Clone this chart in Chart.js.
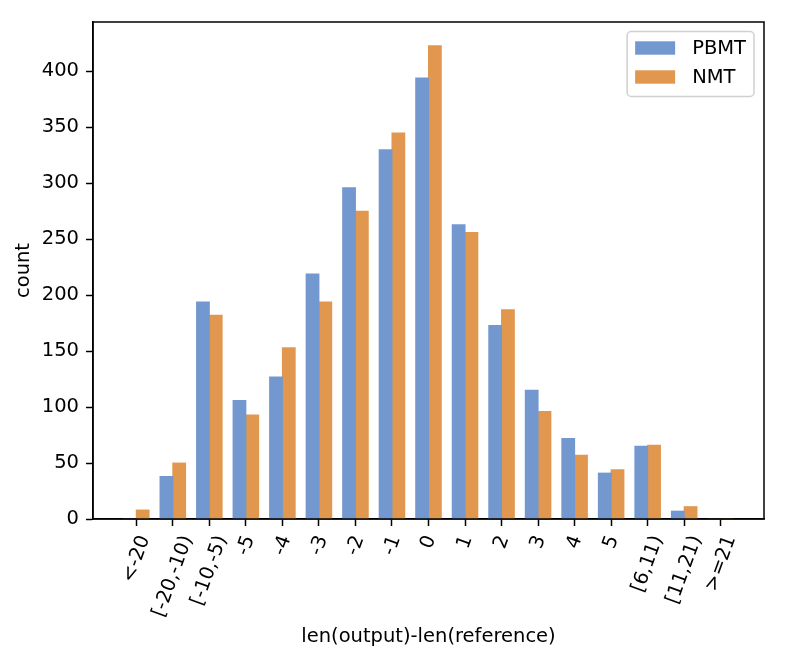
<!DOCTYPE html>
<html><head><meta charset="utf-8">
<script src="https://cdn.jsdelivr.net/npm/chart.js@4.4.1/dist/chart.umd.min.js"></script>
<style>html,body{margin:0;padding:0;background:#fff;} canvas{display:block;}</style>
</head><body>
<canvas id="c" width="786" height="665"></canvas>
<script>
const categories = ['<-20','[-20,-10)','[-10,-5)','-5','-4','-3','-2','-1','0','1','2','3','4','5','[6,11)','[11,21)','>=21'];
const pbmtValues = [0,38,194,106,127,219,296,330,394,263,173,115,72,41,65,7,0];
const nmtValues  = [8,50,182,93,153,194,275,345,423,256,187,96,57,44,66,11,0];
const yTicks = [0,50,100,150,200,250,300,350,400];
const seriesNames = ['PBMT','NMT'];
const xTitle = 'len(output)-len(reference)';
const yTitle = 'count';

const FONT = '"DejaVu Sans", sans-serif';
const FS = 19.5;
Chart.defaults.font.family = FONT;
Chart.defaults.font.size = FS;
Chart.defaults.color = '#000';

const framePlugin = {
  id: 'frame',
  afterDatasetsDraw(chart) {
    const {ctx, chartArea: a} = chart;
    ctx.save();
    ctx.strokeStyle = '#000';
    ctx.lineWidth = 1.5;
    ctx.strokeRect(a.left, a.top, a.right - a.left, a.bottom - a.top);
    ctx.restore();
  }
};

const xLabelPlugin = {
  id: 'xlabels',
  afterDraw(chart) {
    const {ctx, chartArea: a} = chart;
    const xs = chart.scales.x;
    const ang = 70 * Math.PI / 180;
    const yTop = a.bottom + 7 + 7;
    ctx.save();
    ctx.font = FS + 'px ' + FONT;
    ctx.fillStyle = '#000';
    ctx.textAlign = 'center';
    ctx.textBaseline = 'alphabetic';
    categories.forEach((lab, i) => {
      const x = xs.getPixelForValue(i);
      const w = ctx.measureText(lab).width;
      const h = FS * 1.0;
      const H = w * Math.sin(ang) + h * Math.cos(ang);
      const cy = yTop + H / 2;
      ctx.save();
      ctx.translate(x, cy);
      ctx.rotate(-ang);
      ctx.fillText(lab, 0, 0.27 * FS);
      ctx.restore();
    });
    ctx.restore();
  }
};

const legendPlugin = {
  id: 'customLegend',
  afterDraw(chart) {
    const {ctx, chartArea: a} = chart;
    ctx.save();
    ctx.font = FS + 'px ' + FONT;
    const ds = chart.data.datasets;
    const tw = Math.max(...ds.map(d => ctx.measureText(d.label).width));
    const padX = 8, handle = 40, gap = 17;
    const bw = padX + handle + gap + tw + padX;
    const bh = 65;
    const right = a.right - 10;
    const left = right - bw;
    const top = a.top + 9.5;
    const r = 4;
    ctx.beginPath();
    ctx.moveTo(left + r, top);
    ctx.lineTo(left + bw - r, top);
    ctx.arcTo(left + bw, top, left + bw, top + r, r);
    ctx.lineTo(left + bw, top + bh - r);
    ctx.arcTo(left + bw, top + bh, left + bw - r, top + bh, r);
    ctx.lineTo(left + r, top + bh);
    ctx.arcTo(left, top + bh, left, top + bh - r, r);
    ctx.lineTo(left, top + r);
    ctx.arcTo(left, top, left + r, top, r);
    ctx.closePath();
    ctx.fillStyle = 'rgba(255,255,255,0.8)';
    ctx.fill();
    ctx.strokeStyle = '#d0d0d0';
    ctx.lineWidth = 1.5;
    ctx.stroke();
    ds.forEach((d, i) => {
      const cy = top + 16.5 + i * 29;
      ctx.fillStyle = d.backgroundColor;
      ctx.fillRect(left + padX, cy - 6.7, handle, 13.4);
      ctx.fillStyle = '#000';
      ctx.textAlign = 'left';
      ctx.textBaseline = 'middle';
      ctx.fillText(d.label, left + padX + handle + gap, cy + 1);
    });
    ctx.restore();
  }
};

new Chart(document.getElementById('c'), {
  type: 'bar',
  data: {
    datasets: [
      { label: seriesNames[0], data: pbmtValues.map((v, i) => ({x: i, y: v})), backgroundColor: 'rgb(115,152,207)', borderWidth: 0, inflateAmount: 0.5 },
      { label: seriesNames[1], data: nmtValues.map((v, i) => ({x: i, y: v})), backgroundColor: 'rgb(226,151,78)', borderWidth: 0, inflateAmount: 0.5 }
    ]
  },
  options: {
    responsive: false,
    animation: false,
    devicePixelRatio: 1,
    categoryPercentage: 0.7,
    barPercentage: 1.0,
    layout: { padding: { left: 0, top: 22, right: 22, bottom: 0 } },
    plugins: { legend: { display: false }, tooltip: { enabled: false } },
    scales: {
      x: {
        type: 'linear',
        min: -1.185,
        max: 17.185,
        offset: false,
        grid: { offset: false, drawOnChartArea: false, drawTicks: true, tickLength: 7, tickColor: '#000', tickWidth: 1.5 },
        border: { display: true, color: '#000', width: 1.5 },
        ticks: { display: false },
        afterBuildTicks(axis) { axis.ticks = categories.map((c, i) => ({ value: i })); },
        afterFit(axis) { axis.height = 146; },
        title: { display: true, text: xTitle, font: { size: FS }, color: '#000', padding: { top: 0, bottom: 16 } }
      },
      y: {
        type: 'linear',
        min: 0,
        max: 444.15,
        grid: { drawOnChartArea: false, drawTicks: true, tickLength: 7, tickColor: '#000', tickWidth: 1.5 },
        border: { display: true, color: '#000', width: 1.5 },
        ticks: { padding: 7, color: '#000', font: { size: FS } },
        afterBuildTicks(axis) { axis.ticks = yTicks.map(v => ({ value: v })); },
        afterFit(axis) { axis.width = 93; },
        title: { display: true, text: yTitle, font: { size: FS }, color: '#000', padding: { top: 12, bottom: 0 } }
      }
    }
  },
  plugins: [framePlugin, xLabelPlugin, legendPlugin]
});
</script>
</body></html>
